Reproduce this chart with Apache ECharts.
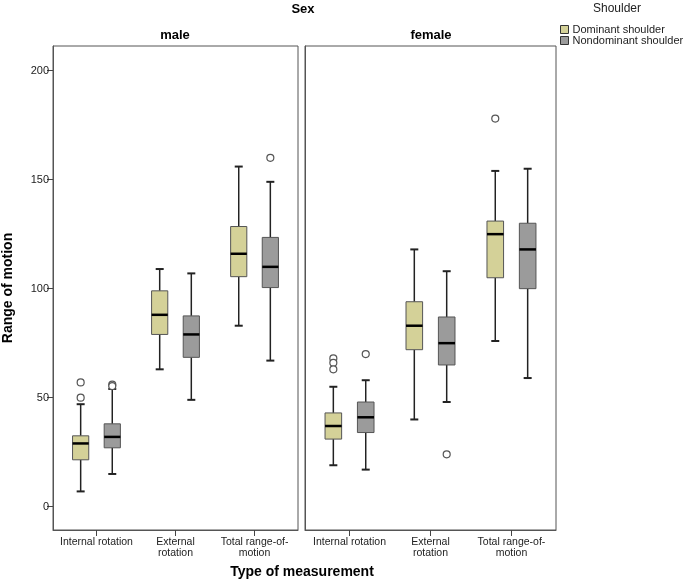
<!DOCTYPE html>
<html>
<head>
<meta charset="utf-8">
<script src="https://cdn.jsdelivr.net/npm/echarts@6/dist/echarts.min.js"></script>
<style>html,body{margin:0;padding:0;background:#fff}#c{width:685px;height:582px}</style>
</head>
<body>
<div id="c"></div>
<script>
// ---- data ----
const categories = ['Internal rotation', 'External\nrotation', 'Total range-of-\nmotion'];
const yTicks = [0, 50, 100, 150, 200];
const seriesNames = ['Dominant shoulder', 'Nondominant shoulder'];
// [min, Q1, median, Q3, max] per category
const maleDominant    = [[7, 21.5, 29, 32.5, 47], [63, 79, 88, 99, 109], [83, 105.5, 116, 128.5, 156]];
const maleNondominant = [[15, 27, 32, 38, 54], [49, 68.5, 79, 87.5, 107], [67, 100.5, 110, 123.5, 149]];
const femaleDominant    = [[19, 31, 37, 43, 55], [40, 72, 83, 94, 118], [76, 105, 125, 131, 154]];
const femaleNondominant = [[17, 34, 41, 48, 58], [48, 65, 75, 87, 108], [59, 100, 118, 130, 155]];
// outliers: [categoryIndex, value]
const maleDominantOut    = [[0, 57], [0, 50]];
const maleNondominantOut = [[0, 56], [0, 55.3], [2, 160]];
const femaleDominantOut    = [[0, 68], [0, 66], [0, 63], [2, 178]];
const femaleNondominantOut = [[0, 70], [1, 24]];

const FONT = 'Liberation Sans, Arial, sans-serif';
const colors = ['#d4d198', '#9b9b9b'];
const OFFSET = 0.2;

function boxRender(offset) {
  return function (params, api) {
    const x = api.value(0) + offset;
    const vals = [api.value(1), api.value(2), api.value(3), api.value(4), api.value(5)];
    const w = api.size([0.205, 0])[0];
    const cap = 8;
    const pMin = api.coord([x, vals[0]]);
    const pQ1 = api.coord([x, vals[1]]);
    const pMed = api.coord([x, vals[2]]);
    const pQ3 = api.coord([x, vals[3]]);
    const pMax = api.coord([x, vals[4]]);
    const cx = pMin[0];
    const wStyle = {stroke: '#222', lineWidth: 1.5, fill: null};
    return {
      type: 'group',
      children: [
        {type: 'line', shape: {x1: cx, y1: pMax[1], x2: cx, y2: pQ3[1]}, style: wStyle},
        {type: 'line', shape: {x1: cx, y1: pQ1[1], x2: cx, y2: pMin[1]}, style: wStyle},
        {type: 'line', shape: {x1: cx - cap / 2, y1: pMax[1], x2: cx + cap / 2, y2: pMax[1]}, style: {stroke: '#222', lineWidth: 2}},
        {type: 'line', shape: {x1: cx - cap / 2, y1: pMin[1], x2: cx + cap / 2, y2: pMin[1]}, style: {stroke: '#222', lineWidth: 2}},
        {type: 'rect', shape: {x: cx - w / 2, y: pQ3[1], width: w, height: pQ1[1] - pQ3[1]},
          style: {fill: api.visual('color'), stroke: '#555', lineWidth: 1}},
        {type: 'line', shape: {x1: cx - w / 2, y1: pMed[1], x2: cx + w / 2, y2: pMed[1]}, style: {stroke: '#000', lineWidth: 2.5}}
      ]
    };
  };
}

function toItems(arr) { return arr.map((d, i) => [i].concat(d)); }
function outItems(arr, off) { return arr.map(d => [d[0] + off, d[1]]); }

const chart = echarts.init(document.getElementById('c'), null, {renderer: 'canvas'});

const grids = [
  {left: 49, top: 46, width: 249, height: 484, show: true, borderColor: '#555', borderWidth: 1, containLabel: false},
  {left: 305, top: 46, width: 251, height: 484, show: true, borderColor: '#555', borderWidth: 1, containLabel: false}
];

function xAxisFor(gi) {
  return {
    type: 'value', gridIndex: gi, min: -0.55, max: 2.55,
    splitLine: {show: false},
    axisLine: {show: true, onZero: false, lineStyle: {color: '#555'}},
    axisTick: {show: true, customValues: [0, 1, 2], length: 6, lineStyle: {color: '#444'}},
    axisLabel: {customValues: [0, 1, 2], formatter: v => categories[Math.round(v)],
      fontFamily: FONT, fontSize: 10.5, color: '#222', lineHeight: 11, margin: 7}
  };
}

const yAxes = [
  {type: 'value', gridIndex: 0, min: -10.7, max: 211.3,
    name: 'Range of motion', nameLocation: 'middle', nameGap: 38,
    nameTextStyle: {fontFamily: FONT, fontSize: 14, fontWeight: 'bold', color: '#000'},
    splitLine: {show: false},
    axisLine: {show: true, onZero: false, lineStyle: {color: '#555'}},
    axisTick: {show: true, customValues: yTicks, length: 6, lineStyle: {color: '#444'}},
    axisLabel: {customValues: yTicks, fontFamily: FONT, fontSize: 11, color: '#222', margin: 4}
  },
  {type: 'value', gridIndex: 1, min: -10.7, max: 211.3,
    splitLine: {show: false}, axisLine: {show: true, onZero: false, lineStyle: {color: '#555'}},
    axisTick: {show: false}, axisLabel: {show: false}}
];

const panels = [
  [maleDominant, maleNondominant, maleDominantOut, maleNondominantOut],
  [femaleDominant, femaleNondominant, femaleDominantOut, femaleNondominantOut]
];

const series = [];
panels.forEach((p, gi) => {
  [0, 1].forEach(k => {
    const off = k === 0 ? -OFFSET : OFFSET;
    series.push({
      name: seriesNames[k], type: 'custom', xAxisIndex: gi, yAxisIndex: gi,
      renderItem: boxRender(off), itemStyle: {color: colors[k]},
      encode: {x: 0, y: [1, 2, 3, 4, 5]},
      data: toItems(p[k]), silent: true
    });
    series.push({
      name: 'outliers' + gi + k, type: 'scatter', xAxisIndex: gi, yAxisIndex: gi,
      symbol: 'circle', symbolSize: 7,
      itemStyle: {color: '#fff', borderColor: '#555', borderWidth: 1.2, opacity: 1},
      data: outItems(p[k + 2], off), silent: true, z: 3
    });
  });
});

chart.setOption({
  animation: false,
  backgroundColor: '#fff',
  grid: grids,
  xAxis: [xAxisFor(0), xAxisFor(1)],
  yAxis: yAxes,
  legend: {
    orient: 'vertical', left: 555, top: 19, itemWidth: 8, itemHeight: 8, itemGap: 0,
    textStyle: {fontFamily: FONT, fontSize: 11, color: '#222', padding: [0, 0, 0, -1]},
    data: seriesNames.map((n, i) => ({name: n, icon: 'rect',
      itemStyle: {color: colors[i], borderColor: '#333', borderWidth: 1}})),
    selectedMode: false
  },
  graphic: [
    {type: 'text', x: 303, y: 9, style: {text: 'Sex', font: 'bold 13px ' + FONT, fill: '#000', textAlign: 'center', textVerticalAlign: 'middle'}},
    {type: 'text', x: 175, y: 35, style: {text: 'male', font: 'bold 13px ' + FONT, fill: '#000', textAlign: 'center', textVerticalAlign: 'middle'}},
    {type: 'text', x: 431, y: 35, style: {text: 'female', font: 'bold 13px ' + FONT, fill: '#000', textAlign: 'center', textVerticalAlign: 'middle'}},
    {type: 'text', x: 617, y: 9, style: {text: 'Shoulder', font: '12px ' + FONT, fill: '#222', textAlign: 'center', textVerticalAlign: 'middle'}},
    {type: 'text', x: 302, y: 572, style: {text: 'Type of measurement', font: 'bold 14px ' + FONT, fill: '#000', textAlign: 'center', textVerticalAlign: 'middle'}}
  ],
  series: series
});
</script>
</body>
</html>
